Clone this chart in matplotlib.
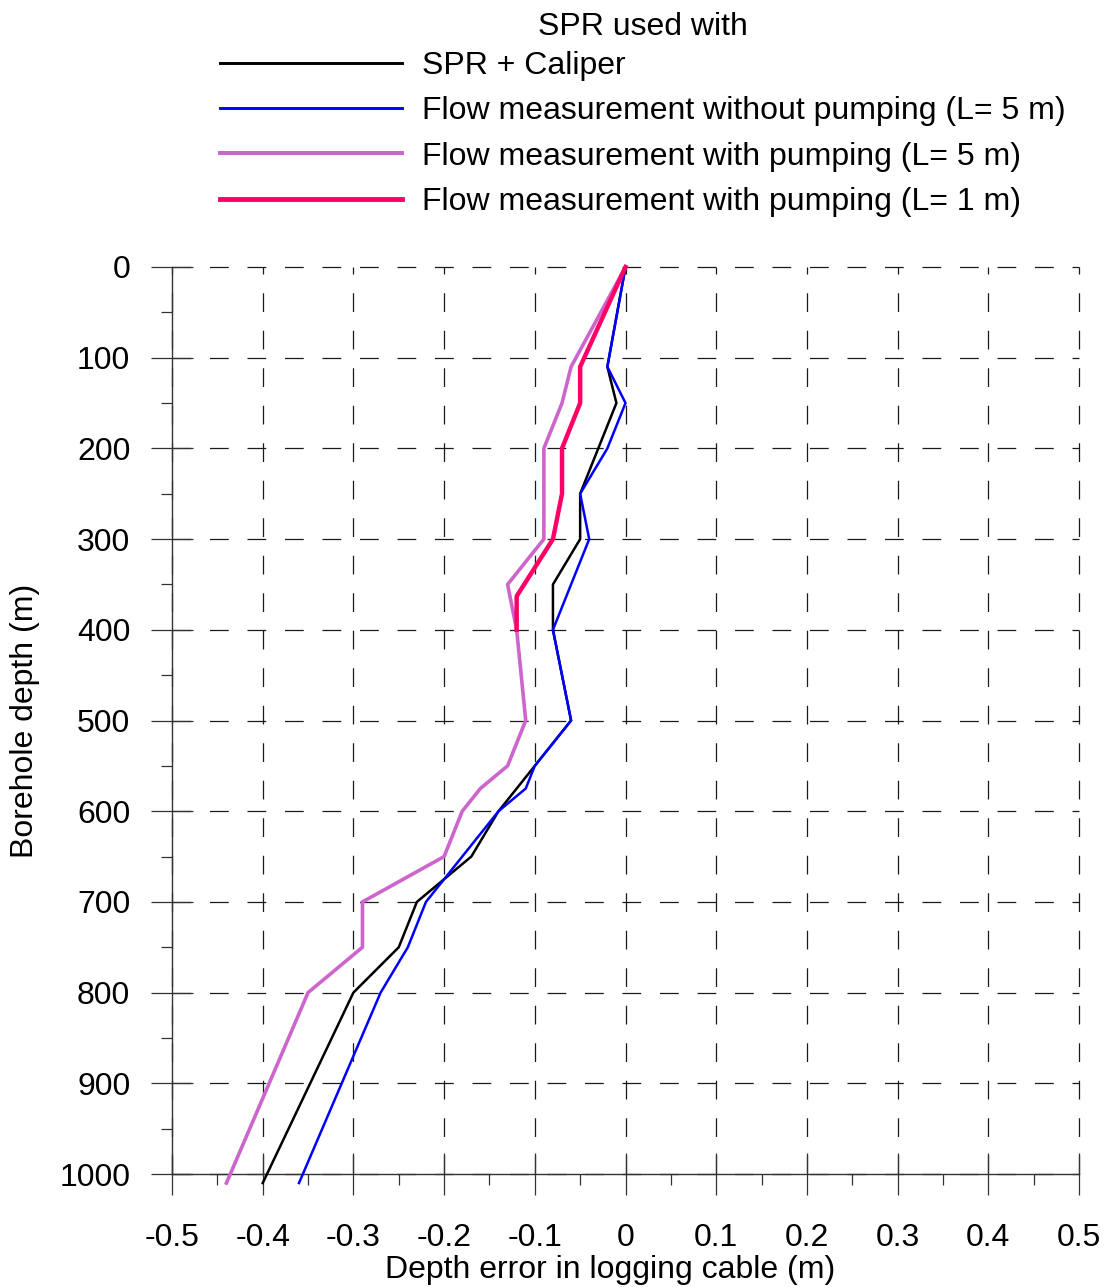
import numpy as np
import matplotlib
matplotlib.use("Agg")
import matplotlib.pyplot as plt
from matplotlib.ticker import MultipleLocator, FuncFormatter

plt.rcParams['font.family'] = ['Liberation Sans', 'DejaVu Sans']
plt.rcParams['axes.unicode_minus'] = False

# Depth error (m) vs borehole depth (m) for each method
caliper_depth = [0, 110, 150, 250, 300, 350, 400, 500, 550, 600, 650, 700, 750, 800, 1010]
caliper_err = [0, -0.02, -0.01, -0.05, -0.05, -0.08, -0.08, -0.06, -0.10, -0.14, -0.17, -0.23, -0.25, -0.30, -0.40]

nopump_depth = [0, 110, 150, 200, 250, 300, 400, 500, 550, 575, 600, 650, 700, 750, 800, 1010]
nopump_err = [0, -0.02, 0.0, -0.02, -0.05, -0.04, -0.08, -0.06, -0.10, -0.11, -0.14, -0.18, -0.22, -0.24, -0.27, -0.36]

pump5_depth = [0, 110, 150, 200, 300, 350, 400, 500, 550, 575, 600, 650, 700, 750, 800, 1010]
pump5_err = [0, -0.06, -0.07, -0.09, -0.09, -0.13, -0.12, -0.11, -0.13, -0.16, -0.18, -0.20, -0.29, -0.29, -0.35, -0.44]

pump1_depth = [0, 110, 150, 200, 250, 300, 363, 400]
pump1_err = [0, -0.05, -0.05, -0.07, -0.07, -0.08, -0.12, -0.12]

labels = ['SPR + Caliper',
          'Flow measurement without pumping (L= 5 m)',
          'Flow measurement with pumping (L= 5 m)',
          'Flow measurement with pumping (L= 1 m)']

fs = 23
fig = plt.figure(figsize=(11.07, 12.87), dpi=100)
ax = fig.add_axes([172 / 1107, 1 - 1174 / 1287, 907 / 1107, 907 / 1287])

ax.plot(caliper_err, caliper_depth, color='black', lw=1.8, label=labels[0], clip_on=False, zorder=5)
ax.plot(nopump_err, nopump_depth, color='#0000FF', lw=1.8, label=labels[1], clip_on=False, zorder=5)
ax.plot(pump5_err, pump5_depth, color='#CC66CC', lw=2.6, label=labels[2], clip_on=False, zorder=4)
ax.plot(pump1_err, pump1_depth, color='#FF0066', lw=3.2, label=labels[3], clip_on=False, zorder=6)

ax.set_xlim(-0.5, 0.5)
ax.set_ylim(1000, 0)
ax.xaxis.set_major_locator(MultipleLocator(0.1))
ax.xaxis.set_minor_locator(MultipleLocator(0.05))
ax.yaxis.set_major_locator(MultipleLocator(100))
ax.yaxis.set_minor_locator(MultipleLocator(50))
ax.xaxis.set_major_formatter(FuncFormatter(lambda v, p: '0' if abs(v) < 1e-9 else f'{v:.1f}'))

ax.grid(True, which='major', color='#1a1a1a', lw=0.9, linestyle=(0, (15, 15)))
for gl in ax.get_xgridlines() + ax.get_ygridlines():
    gl.set_clip_on(False)
for s in ['top', 'right']:
    ax.spines[s].set_visible(False)
for s in ['left', 'bottom']:
    ax.spines[s].set_color('#333333')
    ax.spines[s].set_linewidth(1.0)

ax.tick_params(which='major', direction='inout', length=30, width=0.9, color='#333333',
               labelsize=fs)
ax.tick_params(which='minor', direction='out', length=8, width=0.9, color='#333333')
ax.tick_params(axis='x', which='major', pad=20)
ax.tick_params(axis='y', which='major', pad=15)

ax.set_xlabel('Depth error in logging cable (m)', fontsize=fs)
ax.xaxis.set_label_coords((610 - 172) / 907, (1174 - 1255) / 907)
ax.set_ylabel('Borehole depth (m)', fontsize=fs, labelpad=14)

leg = ax.legend(title='SPR used with', loc='upper left', bbox_to_anchor=(220 / 1107, 1 - 12 / 1287),
                bbox_transform=fig.transFigure, frameon=False, fontsize=fs, title_fontsize=fs,
                handlelength=5.7, handletextpad=0.63, labelspacing=0.475, borderpad=0,
                borderaxespad=0)
# tighter gap between title and first entry
leg._legend_box.sep = 0.475 * fs - 6 * 0.72
for ln in leg.get_lines():
    ln.set_linewidth(ln.get_linewidth() + 0.3)

fig.savefig('out.png', dpi=100)
